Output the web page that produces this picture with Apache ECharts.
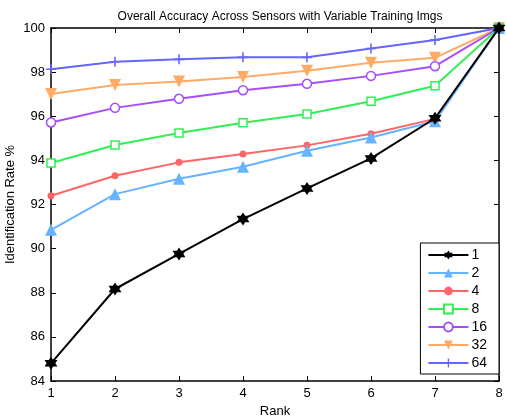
<!DOCTYPE html>
<html>
<head>
<meta charset="utf-8">
<script src="https://cdn.jsdelivr.net/npm/echarts@6/dist/echarts.min.js"></script>
<style>
  html, body { margin: 0; padding: 0; background: #fff; }
  #chart { width: 507px; height: 420px; }
</style>
</head>
<body>
<div id="chart"></div>
<script>
// ranks on the x axis
const ranks = [1, 2, 3, 4, 5, 6, 7, 8];

// identification rate (%) per training-image count
const imgs1  = [84.80, 88.17, 89.76, 91.34, 92.73, 94.09, 95.91, 100];
const imgs2  = [90.85, 92.47, 93.17, 93.71, 94.44, 95.04, 95.77, 100];
const imgs4  = [92.40, 93.30, 93.91, 94.29, 94.68, 95.21, 95.88, 100];
const imgs8  = [93.88, 94.70, 95.24, 95.71, 96.10, 96.68, 97.38, 100];
const imgs16 = [95.72, 96.38, 96.79, 97.18, 97.47, 97.83, 98.27, 100];
const imgs32 = [97.01, 97.42, 97.57, 97.78, 98.06, 98.42, 98.65, 100];
const imgs64 = [98.13, 98.47, 98.58, 98.67, 98.67, 99.07, 99.46, 100];

const seriesNames = ['1', '2', '4', '8', '16', '32', '64'];

// marker shapes (matlab-like)
const starPath = 'path://M10,0 L12.89,5 L18.66,5 L15.77,10 L18.66,15 L12.89,15 L10,20 L7.11,15 L1.34,15 L4.23,10 L1.34,5 L7.11,5 Z';
const plusPath = 'path://M4.2,0 L5.8,0 L5.8,4.2 L10,4.2 L10,5.8 L5.8,5.8 L5.8,10 L4.2,10 L4.2,5.8 L0,5.8 L0,4.2 L4.2,4.2 Z';
const downTri = 'path://M0,0 L10,0 L5,9 Z';

const styles = [
  { data: imgs1,  color: '#000000', symbol: starPath, size: 13, fill: '#000000' },
  { data: imgs2,  color: '#66b3ff', symbol: 'triangle', size: 12, fill: '#66b3ff' },
  { data: imgs4,  color: '#ff6666', symbol: 'circle', size: 7, fill: '#ff6666' },
  { data: imgs8,  color: '#33ee55', symbol: 'rect', size: 8, fill: '#ffffff' },
  { data: imgs16, color: '#a64dff', symbol: 'circle', size: 9, fill: '#ffffff' },
  { data: imgs32, color: '#ffaa66', symbol: downTri, size: 12, fill: '#ffaa66' },
  { data: imgs64, color: '#6666ff', symbol: plusPath, size: 10, fill: '#6666ff' }
];

const font = 'Liberation Sans, Arial, Helvetica, sans-serif';

const chart = echarts.init(document.getElementById('chart'));

const series = styles.map((s, i) => ({
  name: seriesNames[i],
  type: 'line',
  xAxisIndex: 0,
  yAxisIndex: 0,
  data: s.data.map((v, j) => [ranks[j], v]),
  symbol: s.symbol,
  symbolSize: s.size,
  showAllSymbol: true,
  lineStyle: { color: s.color, width: 2 },
  itemStyle: { color: s.fill, borderColor: s.color, borderWidth: s.fill === '#ffffff' ? 1.5 : 0 },
  emphasis: { disabled: true },
  animation: false,
  z: 10 - i
}));

const axisLine = { show: true, lineStyle: { color: '#000', width: 1.5 } };
const axisTick = { show: true, inside: true, length: 5, lineStyle: { color: '#000', width: 1 } };

chart.setOption({
  backgroundColor: '#fff',
  animation: false,
  title: {
    text: 'Overall Accuracy Across Sensors with Variable Training Imgs',
    left: 275,
    textAlign: 'center',
    top: 6,
    textStyle: { fontFamily: font, fontSize: 12, fontWeight: 'normal', color: '#000' }
  },
  grid: { left: 51, right: 8, top: 28, bottom: 39, containLabel: false, outerBoundsMode: 'none' },
  legend: {
    data: seriesNames,
    orient: 'vertical',
    right: 8,
    bottom: 46,
    padding: [5, 12, 4, 7],
    itemGap: 4,
    itemWidth: 40,
    itemHeight: 11,
    backgroundColor: '#fff',
    borderColor: '#000',
    borderWidth: 1,
    textStyle: { fontFamily: font, fontSize: 14, color: '#000', padding: [0, 0, 0, -2] }
  },
  xAxis: [
    {
      type: 'value', min: 1, max: 8, interval: 1,
      name: 'Rank', nameLocation: 'middle', nameGap: 24,
      nameTextStyle: { fontFamily: font, fontSize: 13, color: '#000' },
      axisLine, axisTick,
      axisLabel: { fontFamily: font, fontSize: 13, color: '#000', margin: 6 },
      splitLine: { show: false }
    },
    {
      type: 'value', min: 1, max: 8, interval: 1, position: 'top',
      axisLine, axisTick, axisLabel: { show: false }, splitLine: { show: false }
    }
  ],
  yAxis: [
    {
      type: 'value', min: 84, max: 100, interval: 2,
      name: 'Identification Rate %', nameLocation: 'middle', nameGap: 34,
      nameMoveOverlap: false,
      nameTextStyle: { fontFamily: font, fontSize: 13, color: '#000' },
      axisLine, axisTick,
      axisLabel: { fontFamily: font, fontSize: 13, color: '#000', margin: 6 },
      splitLine: { show: false }
    },
    {
      type: 'value', min: 84, max: 100, interval: 2, position: 'right',
      axisLine, axisTick, axisLabel: { show: false }, splitLine: { show: false }
    }
  ],
  series
});
</script>
</body>
</html>
